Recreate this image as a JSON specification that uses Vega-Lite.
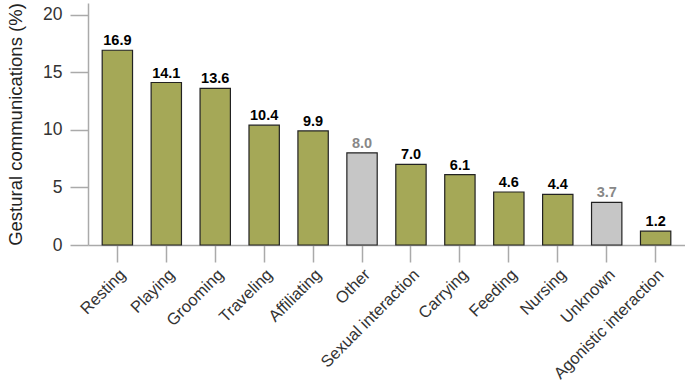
{
  "$schema": "https://vega.github.io/schema/vega-lite/v6.json",
  "width": 597,
  "height": 242,
  "padding": {"left": 88, "top": 3, "right": 0, "bottom": 141},
  "autosize": {"type": "none"},
  "background": "white",
  "config": {
    "view": {"stroke": null},
    "font": "Liberation Sans"
  },
  "data": {
    "values": [
      {"activity": "Resting", "pct": 16.9, "kind": "known"},
      {"activity": "Playing", "pct": 14.1, "kind": "known"},
      {"activity": "Grooming", "pct": 13.6, "kind": "known"},
      {"activity": "Traveling", "pct": 10.4, "kind": "known"},
      {"activity": "Affiliating", "pct": 9.9, "kind": "known"},
      {"activity": "Other", "pct": 8.0, "kind": "other"},
      {"activity": "Sexual interaction", "pct": 7.0, "kind": "known"},
      {"activity": "Carrying", "pct": 6.1, "kind": "known"},
      {"activity": "Feeding", "pct": 4.6, "kind": "known"},
      {"activity": "Nursing", "pct": 4.4, "kind": "known"},
      {"activity": "Unknown", "pct": 3.7, "kind": "other"},
      {"activity": "Agonistic interaction", "pct": 1.2, "kind": "known"}
    ]
  },
  "encoding": {
    "x": {
      "field": "activity",
      "type": "nominal",
      "sort": null,
      "scale": {"paddingInner": 0.38, "paddingOuter": 0.29},
      "axis": {
        "title": null,
        "labelAngle": -45,
        "labelAlign": "right",
        "labelBaseline": "top",
        "labelFontSize": 16.5,
        "labelColor": "#333333",
        "labelPadding": 4,
        "labelLimit": 300,
        "tickSize": 17,
        "tickColor": "#aaaaaa",
        "domainColor": "#aaaaaa",
        "domainWidth": 1.5,
        "tickWidth": 1.5,
        "labelOffset": 0
      }
    },
    "y": {
      "field": "pct",
      "type": "quantitative",
      "scale": {"domain": [0, 21], "nice": false},
      "axis": {
        "title": "Gestural communications (%)",
        "titleFontSize": 18.5,
        "titleFontWeight": "normal",
        "titleColor": "#222222",
        "titlePadding": 17,
        "values": [0, 5, 10, 15, 20],
        "labelFontSize": 17.5,
        "labelColor": "#333333",
        "labelPadding": 8,
        "tickSize": 18,
        "tickColor": "#aaaaaa",
        "domainColor": "#aaaaaa",
        "domainWidth": 1.5,
        "tickWidth": 1.5,
        "grid": false,
        "offset": 0
      }
    }
  },
  "layer": [
    {
      "mark": {"type": "bar", "stroke": "#222222", "strokeWidth": 1.2},
      "encoding": {
        "color": {
          "field": "kind",
          "type": "nominal",
          "scale": {"domain": ["known", "other"], "range": ["#a5a857", "#c6c6c6"]},
          "legend": null
        }
      }
    },
    {
      "mark": {"type": "text", "dy": -9, "fontSize": 14.5, "fontWeight": "bold"},
      "encoding": {
        "text": {"field": "pct", "type": "quantitative", "format": ".1f"},
        "color": {
          "field": "kind",
          "type": "nominal",
          "scale": {"domain": ["known", "other"], "range": ["#000000", "#888888"]},
          "legend": null
        }
      }
    }
  ],
  "resolve": {"scale": {"color": "independent"}}
}
